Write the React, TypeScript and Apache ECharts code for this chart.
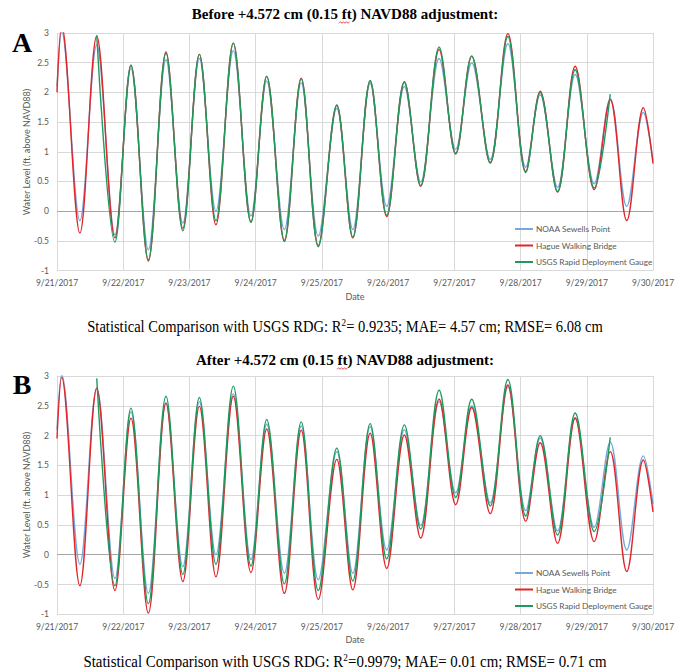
import React, { useEffect, useRef } from 'react';
import * as echarts from 'echarts';

// Tick labels of the date axis (one per day, hours 0..216)
const dateLabels = ['9/21/2017', '9/22/2017', '9/23/2017', '9/24/2017', '9/25/2017', '9/26/2017', '9/27/2017', '9/28/2017', '9/29/2017', '9/30/2017'];

// Hours after 9/21/2017 00:00 of the start, each high / low water, and the end
const extremaHours = [0, 1.7, 8.3, 14.4, 21.0, 26.8, 33.1, 39.5, 45.6, 51.6, 57.6, 63.9, 70.3, 76.0, 82.4, 88.5, 94.7, 101.4, 107.2, 113.5, 119.5, 125.9, 131.8, 138.5, 144.5, 150.3, 157.0, 163.4, 169.9, 175.1, 181.4, 187.8, 194.7, 200.5, 206.5, 212.5, 216];

// Water levels (ft above NAVD88) at those times
const noaaSewells = [2.1, 3.02, -0.16, 2.8, -0.4, 2.4, -0.65, 2.55, -0.2, 2.57, 0.0, 2.7, -0.08, 2.19, -0.31, 2.16, -0.42, 1.73, -0.31, 2.15, 0.08, 2.1, 0.49, 2.57, 1.04, 2.5, 0.87, 2.82, 0.74, 1.96, 0.4, 2.3, 0.46, 1.89, 0.08, 1.66, 0.85];
const hagueBefore = [2.0, 3.12, -0.37, 2.95, -0.45, 2.45, -0.84, 2.68, -0.29, 2.64, -0.23, 2.83, -0.18, 2.27, -0.51, 2.24, -0.58, 1.78, -0.45, 2.19, -0.09, 2.17, 0.42, 2.72, 0.97, 2.61, 0.81, 2.99, 0.67, 2.02, 0.32, 2.44, 0.36, 1.88, -0.16, 1.74, 0.8];
const hagueAfter = [1.95, 2.98, -0.52, 2.79, -0.6, 2.29, -0.98, 2.54, -0.45, 2.49, -0.37, 2.66, -0.3, 2.11, -0.65, 2.09, -0.75, 1.6, -0.59, 2.04, -0.23, 2.01, 0.28, 2.61, 0.84, 2.47, 0.69, 2.85, 0.56, 1.88, 0.19, 2.29, 0.22, 1.73, -0.28, 1.59, 0.72];
const usgsRdg = [null, null, null, 2.96, -0.52, 2.46, -0.82, 2.66, -0.33, 2.64, -0.16, 2.83, -0.19, 2.27, -0.49, 2.23, -0.6, 1.79, -0.44, 2.2, -0.07, 2.18, 0.43, 2.76, 0.96, 2.61, 0.82, 2.94, 0.65, 2.0, 0.33, 2.38, 0.39, 1.97, null, null, null];

const seriesNames = ['NOAA Sewells Point', 'Hague Walking Bridge', 'USGS Rapid Deployment Gauge'];
const colors = ['#74AADC', '#E0262B', '#1E9B5C'];
const yAxisTitle = 'Water Level (ft. above NAVD88)';

const axisFont = 'Lato, "Open Sans", sans-serif';
const serif = '"Liberation Serif", "Times New Roman", serif';

function pairs(values: (number | null)[]) {
  return extremaHours
    .map((h, i) => [h, values[i]])
    .filter((p) => p[1] !== null);
}

function makeSeries(values: (number | null)[], idx: number, axis: number, withZero: boolean) {
  const s: any = {
    name: seriesNames[idx],
    type: 'line',
    xAxisIndex: axis,
    yAxisIndex: axis,
    data: pairs(values),
    smooth: 0.36,
    symbol: 'none',
    lineStyle: { color: colors[idx], width: 1.4 },
    itemStyle: { color: colors[idx] },
    z: 2 + idx,
  };
  if (withZero) {
    s.markLine = {
      silent: true,
      symbol: 'none',
      label: { show: false },
      lineStyle: { color: '#A6A6A6', width: 1, type: 'solid' },
      data: [{ yAxis: 0 }],
      z: 1,
    };
  }
  return s;
}

function xAxis(gridIndex: number) {
  return {
    type: 'value',
    gridIndex,
    min: 0,
    max: 216,
    interval: 24,
    name: 'Date',
    nameLocation: 'middle',
    nameGap: 21,
    nameTextStyle: { fontFamily: axisFont, fontSize: 9, color: '#595959' },
    axisLine: { show: false },
    axisTick: { show: false },
    axisLabel: {
      margin: 8,
      fontFamily: axisFont,
      fontSize: 8.5,
      color: '#595959',
      formatter: (v: number) => dateLabels[Math.round(v / 24)] ?? '',
    },
    splitLine: { show: true, lineStyle: { color: '#D9D9D9', width: 1 } },
  };
}

function yAxis(gridIndex: number) {
  return {
    type: 'value',
    gridIndex,
    min: -1,
    max: 3,
    interval: 0.5,
    axisLine: { show: false },
    axisTick: { show: false },
    axisLabel: { margin: 8, fontFamily: axisFont, fontSize: 8.5, color: '#595959' },
    splitLine: { show: true, lineStyle: { color: '#D9D9D9', width: 1 } },
  };
}

function legend(top: number) {
  return {
    orient: 'vertical',
    left: 515,
    top,
    padding: 0,
    itemGap: 4.5,
    itemWidth: 18,
    itemHeight: 2,
    icon: 'rect',
    data: seriesNames,
    textStyle: { fontFamily: axisFont, fontSize: 8.3, color: '#595959', lineHeight: 12, padding: [0, 0, 0, -2] },
  };
}

function text(x: number, y: number, t: string, style: any, scaleX = 1, rotation = 0) {
  return {
    type: 'text',
    x,
    y,
    scaleX,
    rotation,
    silent: true,
    style: { text: t, fill: '#000', align: 'center', verticalAlign: 'middle', ...style },
  };
}

function squiggle(x0: number, y0: number, len: number) {
  const pts: number[][] = [];
  for (let i = 0; i * 1.5 <= len; i++) pts.push([x0 + i * 1.5, y0 + (i % 2 === 0 ? 0.8 : -0.8)]);
  return { type: 'polyline', silent: true, shape: { points: pts }, style: { stroke: '#E0262B', lineWidth: 0.8, fill: null } };
}

const statRich = {
  sup: { fontFamily: serif, fontSize: 10, verticalAlign: 'top', lineHeight: 18, fill: '#000' },
};

const yTitleStyle = { fontFamily: axisFont, fontSize: 9, fill: '#595959' };

export default function App() {
  const ref = useRef<HTMLDivElement>(null);

  useEffect(() => {
    document.body.style.margin = '0';
    if (!ref.current) return;
    const chart = echarts.init(ref.current, null, { renderer: 'svg' });
    chart.setOption({
      animation: false,
      backgroundColor: '#fff',
      grid: [
        { left: 57, top: 33, width: 596, height: 237.5 },
        { left: 57, top: 376, width: 596, height: 238.3 },
      ],
      xAxis: [xAxis(0), xAxis(1)],
      yAxis: [yAxis(0), yAxis(1)],
      legend: [legend(223), legend(567)],
      series: [
        makeSeries(noaaSewells, 0, 0, true),
        makeSeries(hagueBefore, 1, 0, false),
        makeSeries(usgsRdg, 2, 0, false),
        makeSeries(noaaSewells, 0, 1, true),
        makeSeries(hagueAfter, 1, 1, false),
        makeSeries(usgsRdg, 2, 1, false),
      ],
      graphic: [
        text(345, 14, 'Before +4.572 cm (0.15 ft) NAVD88 adjustment:', { fontFamily: serif, fontWeight: 'bold', fontSize: 15 }),
        squiggle(339, 22.5, 11),
        text(22, 42, 'A', { fontFamily: serif, fontWeight: 'bold', fontSize: 28 }),
        text(26, 152, yAxisTitle, yTitleStyle, 1, Math.PI / 2),
        text(345, 326, 'Statistical Comparison with USGS RDG: R{sup|2}= 0.9235; MAE= 4.57 cm; RMSE= 6.08 cm', { fontFamily: serif, fontSize: 16, rich: statRich }, 0.91),
        text(345, 360, 'After +4.572 cm (0.15 ft) NAVD88 adjustment:', { fontFamily: serif, fontWeight: 'bold', fontSize: 15 }),
        squiggle(337, 368.5, 11),
        text(22, 384, 'B', { fontFamily: serif, fontWeight: 'bold', fontSize: 28 }),
        text(26, 495, yAxisTitle, yTitleStyle, 1, Math.PI / 2),
        text(345, 661, 'Statistical Comparison with USGS RDG: R{sup|2}=0.9979; MAE= 0.01 cm; RMSE= 0.71 cm', { fontFamily: serif, fontSize: 16, rich: statRich }, 0.93),
      ],
    });
    return () => chart.dispose();
  }, []);

  return <div ref={ref} style={{ width: 682, height: 670 }} />;
}
